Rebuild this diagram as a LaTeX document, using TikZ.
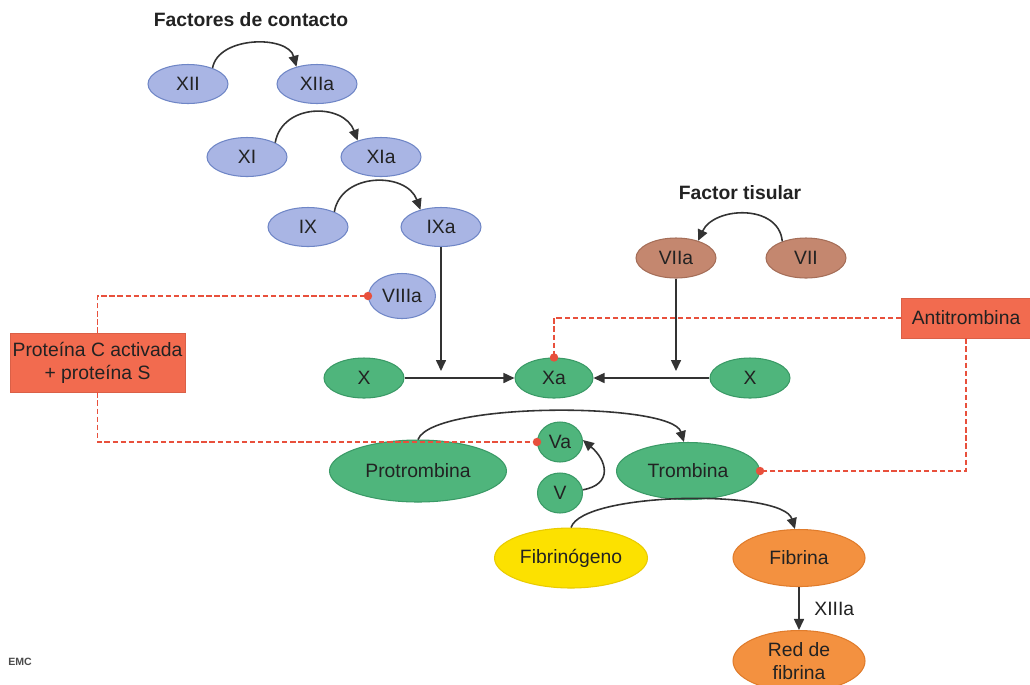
\documentclass[tikz,border=0pt]{standalone}
\usepackage{fontspec}
\setmainfont{Liberation Sans}
\usetikzlibrary{shapes.geometric,arrows.meta,calc}
\definecolor{bfill}{HTML}{A9B5E4}
\definecolor{bdraw}{HTML}{6F86C6}
\definecolor{gfill}{HTML}{4FB57C}
\definecolor{gdraw}{HTML}{3A9A66}
\definecolor{brfill}{HTML}{C4876F}
\definecolor{brdraw}{HTML}{A56E58}
\definecolor{yfill}{HTML}{FCE100}
\definecolor{ydraw}{HTML}{E9CB00}
\definecolor{ofill}{HTML}{F39140}
\definecolor{odraw}{HTML}{E07C2C}
\definecolor{rfill}{HTML}{F26B4F}
\definecolor{rline}{HTML}{E8503C}
\definecolor{arr}{HTML}{333333}
\definecolor{txt}{HTML}{222222}
\begin{document}
\begin{tikzpicture}[x=0.02cm,y=-0.02cm,
  font=\fontsize{11}{13}\selectfont, text=txt,
  fac/.style={ellipse,inner sep=0pt,line width=0.6pt},
  bnode/.style={fac,fill=bfill,draw=bdraw,minimum width=1.6cm,minimum height=0.78cm},
  brnode/.style={fac,fill=brfill,draw=brdraw,minimum width=1.6cm,minimum height=0.8cm},
  gnode/.style={fac,fill=gfill,draw=gdraw},
  ynode/.style={fac,fill=yfill,draw=ydraw},
  onode/.style={fac,fill=ofill,draw=odraw},
  rbox/.style={rectangle,fill=rfill,draw=rfill!90!black,line width=0.4pt,inner sep=0pt,align=center},
  arrow/.style={draw=arr,line width=0.9pt,-{Triangle[length=2.2mm,width=2mm]}},
  rdash/.style={draw=rline,line width=1.1pt,dash pattern=on 3pt off 1.6pt},
  title/.style={font=\fontsize{11}{13}\selectfont\bfseries}
]
\clip (0,0) rectangle (1030,684);
\fill[white] (0,0) rectangle (1030,684);

% titles
\node[title] (t1) at (251,20) {Factores de contacto};
\node[title] (t2) at (740,193) {Factor tisular};

% contact factors
\node[bnode] (XII) at (188,84) {XII};
\node[bnode] (XIIa) at (317,84) {XIIa};
\node[bnode] (XI) at (247,157) {XI};
\node[bnode] (XIa) at (381,157) {XIa};
\node[bnode] (IX) at (308,227) {IX};
\node[bnode] (IXa) at (441,227) {IXa};
\node[bnode,minimum width=1.34cm,minimum height=0.9cm] (VIIIa) at (402,296) {VIIIa};

% tissue factor
\node[brnode] (VIIa) at (676,258) {VIIa};
\node[brnode] (VII) at (806,258) {VII};

% common pathway
\node[gnode,minimum width=1.6cm,minimum height=0.8cm] (X1) at (364,378) {X};
\node[gnode,minimum width=1.56cm,minimum height=0.8cm] (Xa) at (554,378) {Xa};
\node[gnode,minimum width=1.6cm,minimum height=0.8cm] (X2) at (750,378) {X};
\node[gnode,minimum width=0.9cm,minimum height=0.8cm] (Va) at (560,442) {Va};
\node[gnode,minimum width=0.9cm,minimum height=0.8cm] (V) at (560,493) {V};
\node[gnode,minimum width=3.54cm,minimum height=1.24cm] (Prot) at (418,471) {Protrombina};
\node[gnode,minimum width=2.86cm,minimum height=1.14cm] (Trom) at (688,471) {Trombina};
\node[ynode,minimum width=3.06cm,minimum height=1.2cm] (Fbg) at (571,558) {Fibrinógeno};
\node[onode,minimum width=2.64cm,minimum height=1.14cm] (Fib) at (799,558) {Fibrina};
\node[onode,minimum width=2.64cm,minimum height=1.22cm,align=center] (Red) at (799,661) {Red de\\fibrina};

% inhibitors
\node[rbox,minimum width=3.5cm,minimum height=1.18cm] (PC) at (97.5,362.5) {Proteína C activada\\+ proteína S};
\node[rbox,minimum width=2.58cm,minimum height=0.8cm] (AT) at (966,318) {Antitrombina};

% junction points
\coordinate (j1) at (441,371);
\coordinate (j2) at (676,371);

% activation arcs
\draw[arrow] (XII.33) to[out=80,in=105] (XIIa.140);
\draw[arrow] (XI.27) to[out=80,in=110,looseness=1.25] (XIa.145);
\draw[arrow] (IX.30) to[out=80,in=110,looseness=1.2] (IXa.140);
\draw[arrow] (VII.145) to[out=95,in=65,looseness=1.15] (VIIa.38);
\draw[arrow] (V.8) to[out=10,in=-40,looseness=1.6] (Va.5);
\draw[arrow] (Prot.north) .. controls +(15,-38) and +(-12,-40) .. (Trom.98);
\draw[arrow] (Fbg.north) .. controls +(12,-36) and +(-12,-40) .. (Fib.98);

% straight arrows
\draw[arrow] (IXa.south) -- (j1);
\draw[arrow] (VIIa.south) -- (j2);
\draw[arrow] (X1.east) -- (Xa.west);
\draw[arrow] (X2.west) -- (Xa.east);
\draw[arrow] (Fib.south) -- node[right=5pt] {XIIIa} (Red.north);

% inhibition lines
\draw[rdash] (PC.north) |- (VIIIa.west);
\draw[rdash] (PC.south) |- (Va.west);
\draw[rdash] (AT.west) -| (Xa.north);
\draw[rdash] (AT.south) |- (Trom.east);
\fill[rline] (VIIIa.west) circle (2.4pt);
\fill[rline] (Va.west) circle (2.4pt);
\fill[rline] (Xa.north) circle (2.4pt);
\fill[rline] (Trom.east) circle (2.4pt);

% logo
\node[font=\fontsize{6}{7}\selectfont\bfseries,text=black!70] (logo) at (20,662) {EMC};
\end{tikzpicture}
\end{document}
